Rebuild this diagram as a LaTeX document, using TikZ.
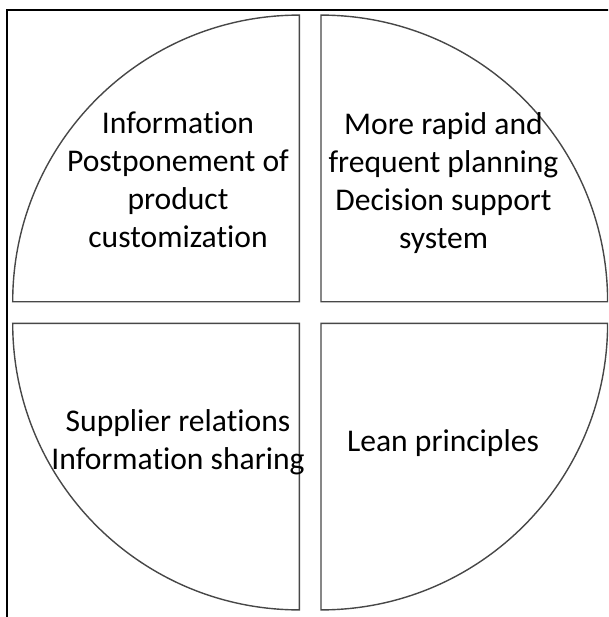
\documentclass[tikz,border=0pt]{standalone}
\usepackage{fontspec}
\setmainfont{Carlito}[Ligatures={NoCommon}]

\begin{document}
\begin{tikzpicture}[x=1pt, y=-1pt,
                    quarter/.style={draw=black!72, line width=1.4pt, line join=miter},
                    quadtext/.style={align=center, inner sep=0pt, anchor=north,
                                     font=\fontsize{31.6}{38}\selectfont}]
    \clip (0,0) rectangle (608,617);

    % frame, runs off the page at right and bottom
    \draw[line width=2.2pt] (6.7,640) |- (640,10);

    % the four quarters
    \draw[quarter] (299.3,301.7) -- ++(-286.6,0) arc[start angle=180, end angle=270, radius=286.6] -- cycle;
    \draw[quarter] (321,301.7) -- ++(0,-286.6) arc[start angle=270, end angle=360, radius=286.6] -- cycle;
    \draw[quarter] (321,323.3) -- ++(286.6,0) arc[start angle=0, end angle=90, radius=286.6] -- cycle;
    \draw[quarter] (299.3,323.3) -- ++(0,286.6) arc[start angle=90, end angle=180, radius=286.6] -- cycle;

    \node[quadtext] (InfoPost) at (178,112) {Information\\Postponement of\\product\\customization};
    \node[quadtext] (RapidPlan) at (443.5,112) {More rapid and\\frequent planning\\Decision support\\system};
    \node[quadtext] (Supplier) at (178,409) {Supplier relations\\Information sharing};
    \node[quadtext] (Lean) at (443,429) {Lean principles};
\end{tikzpicture}
\end{document}
